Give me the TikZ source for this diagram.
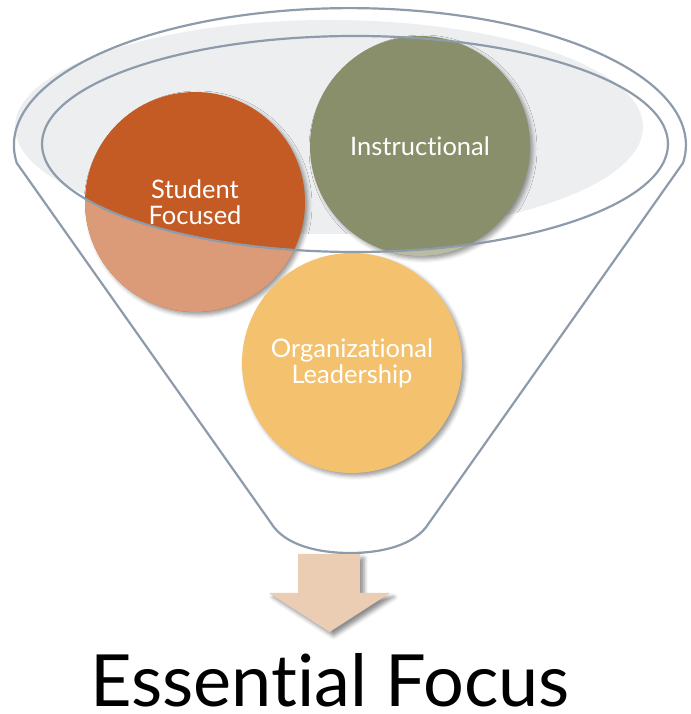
\documentclass[tikz,border=0pt]{standalone}
\usepackage{fontspec}
\setmainfont{Lato}[Ligatures=NoCommon]
\usetikzlibrary{shadows.blur}

\definecolor{rim}{HTML}{8E9BAB}
\definecolor{haze}{HTML}{EDEEF0}
\definecolor{rust}{HTML}{C45B24}
\definecolor{rustpale}{HTML}{DB9B79}
\definecolor{olive}{HTML}{898F6B}
\definecolor{olivepale}{HTML}{B9BBA2}
\definecolor{amber}{HTML}{F4C26F}
\definecolor{peach}{HTML}{EBCDB4}

\tikzset{
  bubble/.style={circle, minimum size=220pt, inner sep=0pt, text=white, align=center,
    font=\fontsize{25.5}{26}\selectfont,
    blur shadow={shadow xshift=3pt, shadow yshift=-3pt, shadow blur radius=4pt, shadow opacity=40}},
  rimline/.style={draw=rim, line width=2.2pt},
}

\begin{document}
\begin{tikzpicture}[x=1pt,y=1pt]
\useasboundingbox (0,0) rectangle (690,714);

%\draw[rimline] (350,569) ellipse (336pt and 137pt);
\fill[haze] (329,587) ellipse (314pt and 107pt);

\node[bubble, fill=rust] (P1) at (195,512) {Student\\Focused};
\node[bubble, fill=olive] (P2) at (420,568) {Instructional};

% below the inner rim the bubbles look paler
\begin{scope}
\clip (42,570) arc (180:360:313pt and 108pt) -- (690,570) -- (690,0) -- (0,0) -- (0,570) -- cycle;
\fill[rustpale] (P1.center) circle (110pt);
\fill[olivepale] (P2.center) circle (110pt);
\end{scope}

\node[bubble, fill=amber] (P3) at (352,351) {Organizational\\Leadership};

% funnel
\draw[rimline] (355,570) ellipse (313pt and 108pt);
\draw[rimline, line join=round] (683,551) arc (-7.5:187.5:336pt and 137pt) -- (271,191)
  .. controls (285,168) and (320,161) .. (350,161)
  .. controls (380,161) and (415,168) .. (429,191) -- cycle;

\fill[peach, blur shadow={shadow xshift=4pt, shadow yshift=-4pt, shadow blur radius=4pt, shadow opacity=45}]
  (298,160) -- (360,160) -- (360,121) -- (390,121) -- (329.5,82) -- (269,121) -- (298,121) -- cycle;

\node[font=\fontsize{72}{74}\selectfont, anchor=base, inner sep=0pt] (P4) at (330,7) {Essential Focus};
\end{tikzpicture}
\end{document}
